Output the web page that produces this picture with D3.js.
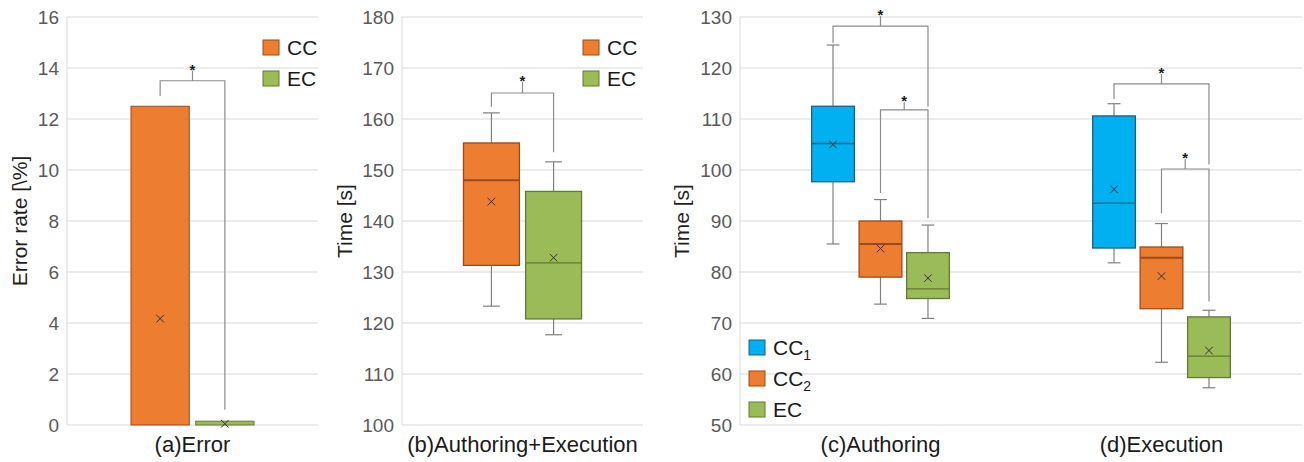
<!DOCTYPE html>
<html lang="en">
<head>
<meta charset="UTF-8">
<title>Error rate and time</title>
<script src="https://d3js.org/d3.v7.min.js"></script>
<style>
    body { margin: 0; background: #fff; }
    svg { font-family: "Liberation Sans", Arial, sans-serif; }
    .grid line { stroke: #d9d9d9; stroke-width: 1; }
    .tick-label { fill: #595959; font-size: 19px; }
    .axis-title { fill: #1f1f1f; font-size: 21px; }
    .legend-text { fill: #1a1a1a; font-size: 21px; }
    .bracket { stroke: #8c8c8c; stroke-width: 1.2; fill: none; }
</style>
</head>
<body>
<div id="chart"></div>
<script>
    // ---- data ----
    const errGroups = ["CC", "EC"];
    const errRate = [12.5, 0.15];
    const errMean = [4.17, 0.05];

    const totalGroups = ["CC", "EC"];
    const totalBoxes = [
        { min: 123.3, q1: 131.3, med: 148.0, q3: 155.3, max: 161.2, mean: 143.8 },
        { min: 117.7, q1: 120.8, med: 131.8, q3: 145.8, max: 151.6, mean: 132.8 }
    ];

    const phaseCats = ["(c)Authoring", "(d)Execution"];
    const phaseGroups = ["CC1", "CC2", "EC"];
    const authoringBoxes = [
        { min: 85.5, q1: 97.7, med: 105.2, q3: 112.5, max: 124.5, mean: 105.0 },
        { min: 73.7, q1: 79.0, med: 85.5, q3: 90.0, max: 94.2, mean: 84.6 },
        { min: 70.9, q1: 74.8, med: 76.7, q3: 83.8, max: 89.2, mean: 78.8 }
    ];
    const executionBoxes = [
        { min: 81.8, q1: 84.7, med: 93.5, q3: 110.6, max: 113.0, mean: 96.2 },
        { min: 62.3, q1: 72.8, med: 82.8, q3: 84.9, max: 89.5, mean: 79.2 },
        { min: 57.3, q1: 59.3, med: 63.5, q3: 71.2, max: 72.5, mean: 64.6 }
    ];

    // significance brackets: groups joined, top of bracket, leg ends, tick top
    const errBrackets = [{ a: "CC", b: "EC", top: 13.5, left: 12.9, right: 0.6, tick: 13.9 }];
    const totalBrackets = [{ a: "CC", b: "EC", top: 165.1, left: 162.4, right: 153.5, tick: 167.3 }];
    const authoringBrackets = [
        { a: "CC1", b: "EC", top: 128.2, left: 124.9, right: 112.4, tick: 130.2 },
        { a: "CC2", b: "EC", top: 111.8, left: 95.5, right: 90.6, tick: 113.3 }
    ];
    const executionBrackets = [
        { a: "CC1", b: "EC", top: 116.9, left: 113.9, right: 101.1, tick: 118.8 },
        { a: "CC2", b: "EC", top: 100.2, left: 91.5, right: 74.2, tick: 102.1 }
    ];

    const colors = { CC: "#ED7D31", EC: "#9BBB59", CC1: "#00B0F0", CC2: "#ED7D31" };
    const darker = { CC: "#9c4a18", EC: "#617a34", CC1: "#1f5e80", CC2: "#9c4a18" };

    const W = 1304, H = 462;
    const plotTop = 17, plotBottom = 425;

    const svg = d3.select("#chart").append("svg")
        .attr("width", W).attr("height", H);

    // draws the frame: gridlines, tick labels, titles; returns y scale
    function frame(x0, x1, domain, step, yTitle, titleX) {
        const y = d3.scaleLinear().domain(domain).range([plotBottom, plotTop]);
        const ticks = d3.range(domain[0], domain[1] + step / 2, step);
        const g = svg.append("g").attr("class", "grid");
        g.selectAll("line").data(ticks).join("line")
            .attr("x1", x0).attr("x2", x1)
            .attr("y1", d => y(d)).attr("y2", d => y(d));
        g.append("line").attr("x1", x0).attr("x2", x0).attr("y1", plotTop).attr("y2", plotBottom);
        svg.append("g").selectAll("text").data(ticks).join("text")
            .attr("class", "tick-label")
            .attr("x", x0 - 8).attr("y", d => y(d))
            .attr("dy", "0.35em").attr("text-anchor", "end")
            .text(d => d);
        svg.append("text").attr("class", "axis-title")
            .attr("transform", `translate(${titleX},${(plotTop + plotBottom) / 2}) rotate(-90)`)
            .attr("text-anchor", "middle").attr("dy", "0.35em")
            .text(yTitle);
        return y;
    }

    function innerScale(outer, cat, groups) {
        const c = outer(cat) + outer.bandwidth() / 2;
        const span = outer.bandwidth() * 0.49;
        return d3.scaleBand().domain(groups).range([c - span / 2, c + span / 2]).paddingInner(0.1);
    }

    function xLabels(outer) {
        svg.append("g").selectAll("text").data(outer.domain()).join("text")
            .attr("class", "axis-title")
            .attr("x", d => outer(d) + outer.bandwidth() / 2)
            .attr("y", 452).attr("text-anchor", "middle")
            .style("font-size", "22px").style("fill", "#1a1a1a")
            .text(d => d);
    }

    function meanMark(cx, cy) {
        const s = 3.8;
        svg.append("path")
            .attr("d", `M${cx - s},${cy - s}L${cx + s},${cy + s}M${cx - s},${cy + s}L${cx + s},${cy - s}`)
            .attr("stroke", "#333").attr("stroke-width", 1).attr("fill", "none");
    }

    function boxes(xs, y, groups, stats) {
        const bw = xs.bandwidth();
        groups.forEach((gname, i) => {
            const d = stats[i];
            const cx = xs(gname) + bw / 2;
            const cap = bw * 0.3;
            const g = svg.append("g");
            g.append("line").attr("x1", cx).attr("x2", cx).attr("y1", y(d.max)).attr("y2", y(d.q3))
                .attr("stroke", "#808080").attr("stroke-width", 1.2);
            g.append("line").attr("x1", cx).attr("x2", cx).attr("y1", y(d.q1)).attr("y2", y(d.min))
                .attr("stroke", "#808080").attr("stroke-width", 1.2);
            [d.max, d.min].forEach(v => g.append("line")
                .attr("x1", cx - cap / 2).attr("x2", cx + cap / 2)
                .attr("y1", y(v)).attr("y2", y(v))
                .attr("stroke", "#808080").attr("stroke-width", 1.2));
            g.append("rect").attr("x", xs(gname)).attr("width", bw)
                .attr("y", y(d.q3)).attr("height", y(d.q1) - y(d.q3))
                .attr("fill", colors[gname]).attr("stroke", darker[gname]).attr("stroke-width", 1.3);
            g.append("line").attr("x1", xs(gname)).attr("x2", xs(gname) + bw)
                .attr("y1", y(d.med)).attr("y2", y(d.med))
                .attr("stroke", darker[gname]).attr("stroke-width", gname === "CC" || gname === "CC2" ? 2 : 1.3);
            meanMark(cx, y(d.mean));
        });
    }

    function brackets(xs, y, list) {
        const bw = xs.bandwidth();
        list.forEach(b => {
            const xa = xs(b.a) + bw / 2, xb = xs(b.b) + bw / 2, xm = (xa + xb) / 2;
            svg.append("path").attr("class", "bracket")
                .attr("d", `M${xa},${y(b.left)}V${y(b.top)}H${xb}V${y(b.right)}M${xm},${y(b.top)}V${y(b.tick)}`);
            svg.append("text").attr("x", xm).attr("y", y(b.tick) + 4)
                .attr("text-anchor", "middle").style("font-size", "15px").style("font-weight", "bold")
                .attr("fill", "#1a1a1a").text("*");
        });
    }

    function legend(x, y0, gap, groups, labels) {
        groups.forEach((gname, i) => {
            const yy = y0 + i * gap;
            svg.append("rect").attr("x", x).attr("y", yy).attr("width", 16).attr("height", 15)
                .attr("fill", colors[gname]).attr("stroke", darker[gname]).attr("stroke-width", 1);
            const t = svg.append("text").attr("class", "legend-text")
                .attr("x", x + 24).attr("y", yy + 7.5).attr("dy", "0.35em");
            const lab = labels[i];
            if (/\d$/.test(lab)) {
                t.append("tspan").text(lab.slice(0, -1));
                t.append("tspan").attr("dy", 5).style("font-size", "14px").text(lab.slice(-1));
            } else {
                t.text(lab);
            }
        });
    }

    // ---- (a) error rate ----
    const xA = d3.scaleBand().domain(["(a)Error"]).range([67, 318]);
    const yA = frame(67, 318, [0, 16], 2, "Error rate [\\%]", 20);
    const xsA = innerScale(xA, "(a)Error", errGroups);
    errGroups.forEach((gname, i) => {
        svg.append("rect").attr("x", xsA(gname)).attr("width", xsA.bandwidth())
            .attr("y", yA(errRate[i])).attr("height", yA(0) - yA(errRate[i]))
            .attr("fill", colors[gname]).attr("stroke", darker[gname]).attr("stroke-width", 1);
        meanMark(xsA(gname) + xsA.bandwidth() / 2, yA(errMean[i]));
    });
    brackets(xsA, yA, errBrackets);
    xLabels(xA);
    legend(263, 40, 31, errGroups, errGroups);

    // ---- (b) authoring + execution ----
    const xB = d3.scaleBand().domain(["(b)Authoring+Execution"]).range([402, 643]);
    const yB = frame(402, 643, [100, 180], 10, "Time [s]", 345);
    const xsB = innerScale(xB, "(b)Authoring+Execution", totalGroups);
    boxes(xsB, yB, totalGroups, totalBoxes);
    brackets(xsB, yB, totalBrackets);
    xLabels(xB);
    legend(583, 40, 31, totalGroups, totalGroups);

    // ---- (c) authoring, (d) execution ----
    const xC = d3.scaleBand().domain(phaseCats).range([740, 1302]);
    const yC = frame(740, 1302, [50, 130], 10, "Time [s]", 682);
    const xsC = innerScale(xC, phaseCats[0], phaseGroups);
    const xsD = innerScale(xC, phaseCats[1], phaseGroups);
    boxes(xsC, yC, phaseGroups, authoringBoxes);
    boxes(xsD, yC, phaseGroups, executionBoxes);
    brackets(xsC, yC, authoringBrackets);
    brackets(xsD, yC, executionBrackets);
    xLabels(xC);
    legend(749, 340, 31, phaseGroups, ["CC1", "CC2", "EC"]);
</script>
</body>
</html>
